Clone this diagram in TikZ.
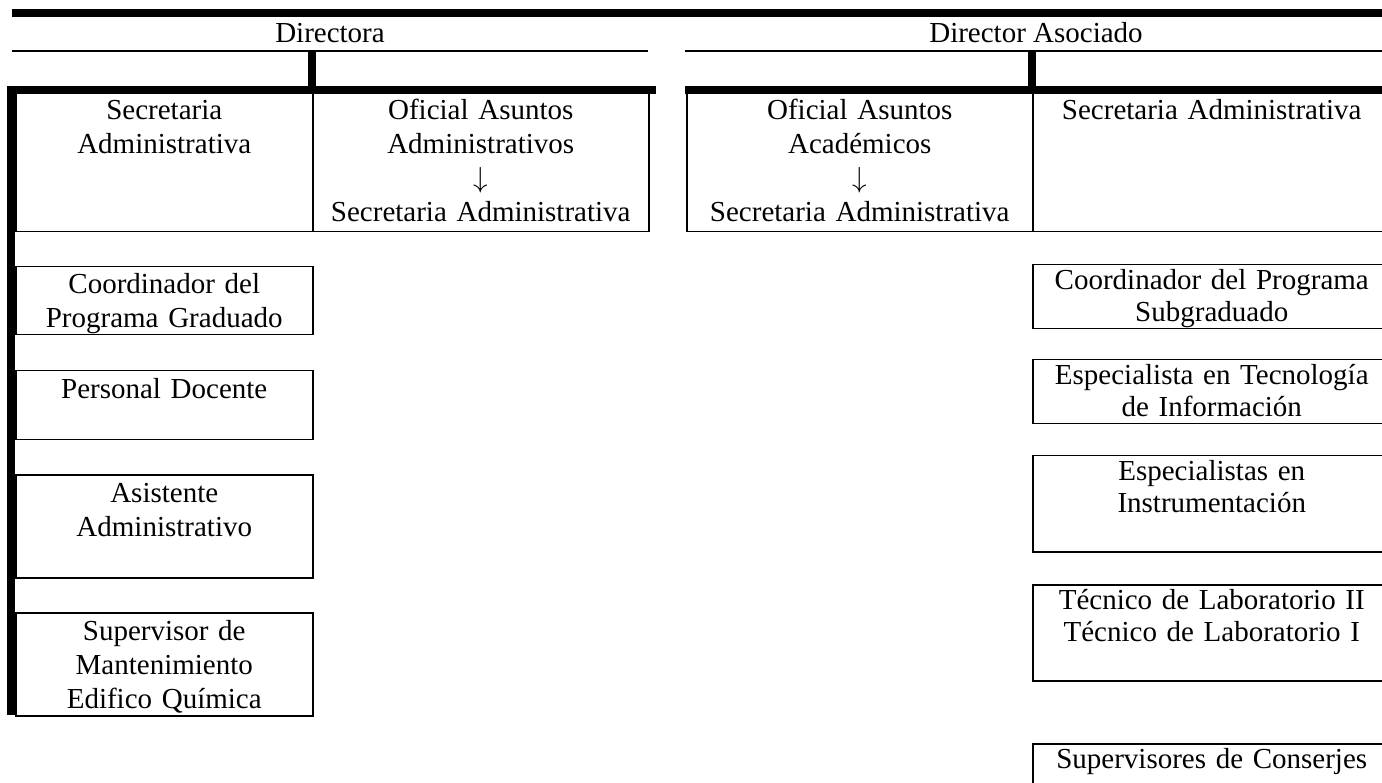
\documentclass[tikz,border=0pt]{standalone}
\usepackage{fix-cm}
\usepackage{fontspec}
\setmainfont{Liberation Serif}
\newcommand{\Ls}{\rule[-7pt]{0pt}{34pt}}
\newcommand{\Rs}{\rule[-7pt]{0pt}{32pt}}
\newcommand{\Dn}{$\downarrow$}
\begin{document}
\begin{tikzpicture}[x=1pt,y=-1pt,
  cellL/.style={draw, line width=1.5pt, rectangle, inner sep=0pt, anchor=north west,
    align=center, font=\fontsize{29}{34}\selectfont},
  cellR/.style={draw, line width=1.5pt, rectangle, inner sep=0pt, anchor=north west,
    align=center, font=\fontsize{29}{32}\selectfont},
  headtext/.style={anchor=base, inner sep=0pt, font=\fontsize{29}{34}\selectfont},
  heavy/.style={line width=7.5pt},
  light/.style={line width=1.5pt}]
\useasboundingbox (0,0) rectangle (1382,783);

% headers
\node[headtext] (dira) at (330,43) {Directora};
\node[headtext] (dirb) at (1036,43) {Director Asociado};

% first row (left)
\node[cellL, text width=297pt, minimum height=142pt] (secA) at (15,89)
  {\Ls Secretaria\\\Ls Administrativa\\\Ls\\\Ls};
\node[cellL, text width=336pt, minimum height=142pt] (ofA) at (312,89)
  {\Ls Oficial Asuntos\\\Ls Administrativos\\\Ls \Dn\\\Ls Secretaria Administrativa};
% first row (right)
\node[cellL, text width=346pt, minimum height=142pt] (ofB) at (686,89)
  {\Ls Oficial Asuntos\\\Ls Académicos\\\Ls \Dn\\\Ls Secretaria Administrativa};
\node[cellL, text width=358pt, minimum height=142pt] (secB) at (1032,89)
  {\Ls Secretaria Administrativa\\\Ls\\\Ls\\\Ls};

% left column boxes
\node[cellL, text width=297pt, minimum height=68pt] (coordG) at (15,266)
  {\Ls Coordinador del\\\Ls Programa Graduado};
\node[cellL, text width=297pt, minimum height=69pt] (docente) at (15,370)
  {\Ls Personal Docente\\\Ls};
\node[cellL, text width=297pt, minimum height=103pt] (asist) at (15,474)
  {\Ls Asistente\\\Ls Administrativo\\\Ls};
\node[cellL, text width=297pt, minimum height=103pt] (superv) at (15,612)
  {\Ls Supervisor de\\\Ls Mantenimiento\\\Ls Edifico Química};

% right column boxes
\node[cellR, text width=358pt, minimum height=64pt] (coordS) at (1032,264)
  {\Rs Coordinador del Programa\\\Rs Subgraduado};
\node[cellR, text width=358pt, minimum height=64pt] (tecinf) at (1032,359)
  {\Rs Especialista en Tecnología\\\Rs de Información};
\node[cellR, text width=358pt, minimum height=96pt] (instr) at (1032,455)
  {\Rs Especialistas en\\\Rs Instrumentación\\\Rs};
\node[cellR, text width=358pt, minimum height=96pt] (tecnico) at (1032,584)
  {\Rs Técnico de Laboratorio II\\\Rs Técnico de Laboratorio I\\\Rs};
\node[cellR, text width=358pt, minimum height=96pt] (conserj) at (1032,743)
  {\Rs Supervisores de Conserjes\\\Rs\\\Rs};

% rules
\coordinate (topL) at (12,13);
\coordinate (topR) at (1392,13);
\draw[heavy] (topL) -- (topR);
\draw[light] (12,51) -- (648,51);
\draw[light] (685,51) -- (1392,51);
\draw[heavy] (312,51) -- (312,90);
\draw[heavy] (1032,51) -- (1032,90);
\draw[heavy] (7,90) -- (656,90);
\draw[heavy] (685,90) -- (1392,90);
\draw[heavy] (11,86.25) -- (11,715);
\end{tikzpicture}
\end{document}
